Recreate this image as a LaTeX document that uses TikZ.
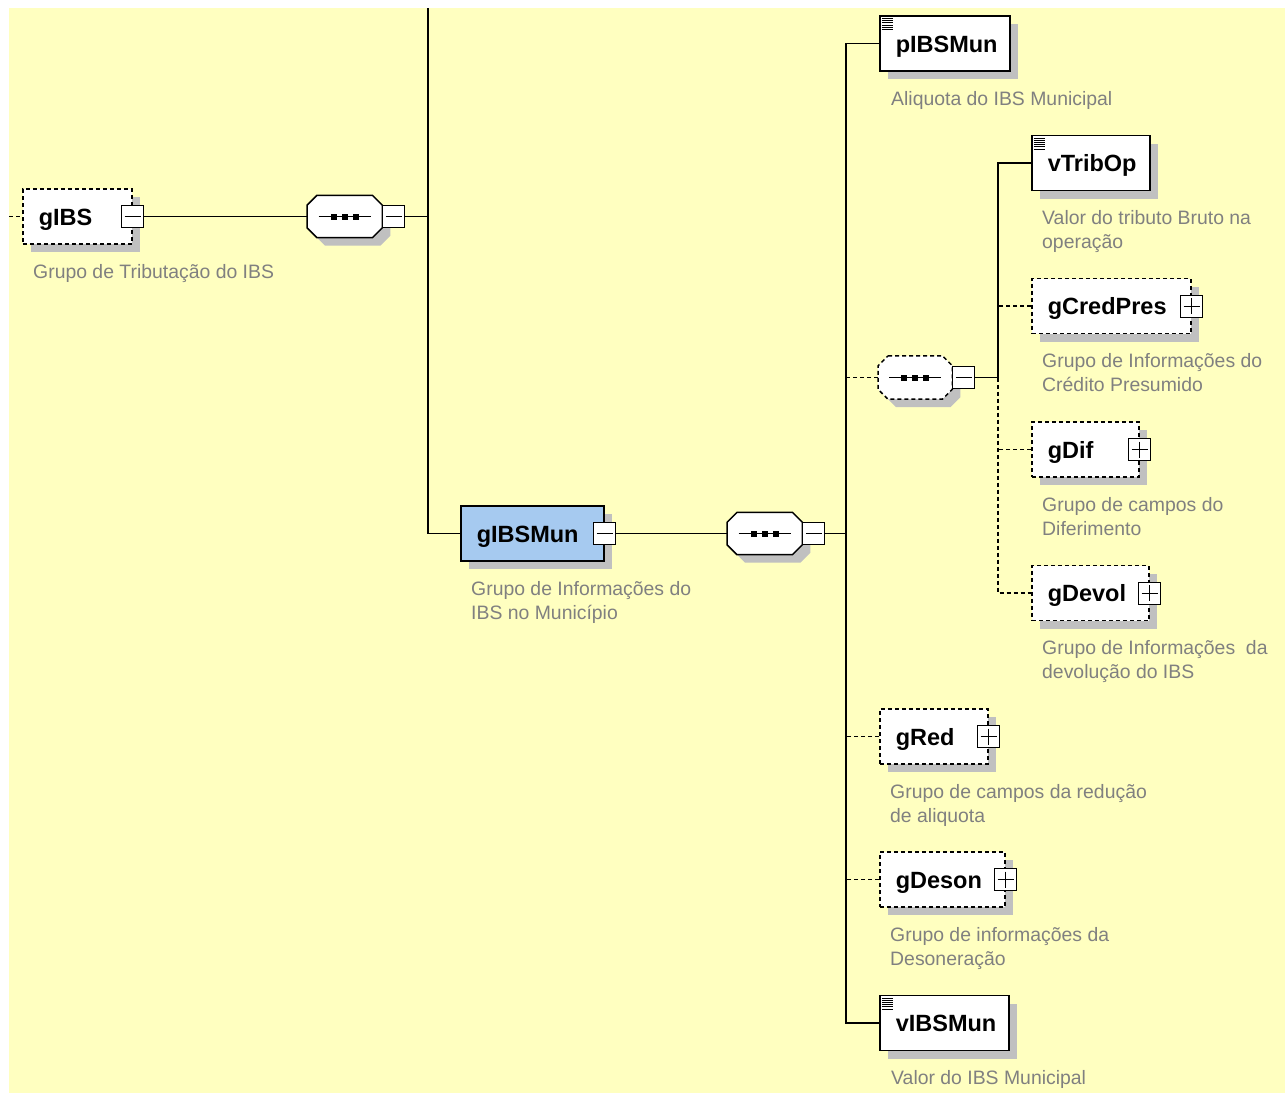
\documentclass[tikz,border=0pt]{standalone}
\usepackage{fontspec}
\setmainfont{Liberation Sans}
\usetikzlibrary{shadows}

\definecolor{bgyellow}{RGB}{255,255,192}
\definecolor{shadowgray}{RGB}{192,192,192}
\definecolor{descgray}{RGB}{128,128,128}
\definecolor{selblue}{RGB}{166,202,240}

% octagon round a sequence node
\newcommand{\octpath}[1]{([shift={(10,0)}]#1.north west) -- ([shift={(-10,0)}]#1.north east)
  -- ([shift={(0,10)}]#1.north east) -- ([shift={(0,-10)}]#1.south east)
  -- ([shift={(-10,0)}]#1.south east) -- ([shift={(10,0)}]#1.south west)
  -- ([shift={(0,-10)}]#1.south west) -- ([shift={(0,10)}]#1.north west) -- cycle}
\newcommand{\seqglyph}[2]{%
  \fill[shadowgray, transform canvas={shift={(8,8)}}] \octpath{#1};
  \filldraw[fill=white, draw=black, line width=1.5pt, #2] \octpath{#1};
  \draw[line width=1.2pt] ([xshift=-26pt]#1.center) -- ([xshift=26pt]#1.center);
  \foreach \dx in {-11,0,11}
    \fill[black] ([xshift=\dx pt]#1.center) +(-3pt,-3pt) rectangle +(3pt,3pt);
}

\tikzset{
  boxshadow/.style={drop shadow={shadow xshift=8pt, shadow yshift=-8pt, fill=shadowgray, opacity=1}},
  optborder/.style={dash pattern=on 4pt off 3pt},
  elem/.style={draw=black, line width=1.5pt, fill=white, anchor=west, minimum height=55pt,
    inner xsep=16pt, inner ysep=0pt, align=left, text height=17pt, text depth=0pt,
    font=\fontsize{23.5}{28}\selectfont\bfseries, boxshadow},
  optelem/.style={elem, optborder},
  selected/.style={fill=selblue},
  docicon/.style={path picture={
    \foreach \k in {0,...,5}
      \draw[line width=0.9pt] ([shift={(2pt,-2.5pt-2.2pt*\k)}]path picture bounding box.north west) -- ++(11pt,0pt);}},
  minusbox/.style={draw=black, line width=1pt, fill=white, minimum size=22pt, inner sep=0pt,
    path picture={\draw[line width=1pt] ([xshift=3pt]path picture bounding box.west) -- ([xshift=-3pt]path picture bounding box.east);}},
  plusbox/.style={draw=black, line width=1pt, fill=white, minimum size=22pt, inner sep=0pt,
    path picture={\draw[line width=1pt] ([xshift=3pt]path picture bounding box.west) -- ([xshift=-3pt]path picture bounding box.east);
      \draw[line width=1pt] ([yshift=-3pt]path picture bounding box.north) -- ([yshift=3pt]path picture bounding box.south);}},
  seqbox/.style={rectangle, minimum width=75pt, minimum height=42pt, inner sep=0pt, anchor=west},
  reqline/.style={draw=black, line width=1.5pt},
  optline/.style={draw=black, line width=1.5pt, optborder},
  desc/.style={anchor=north west, inner sep=0pt, align=left, text=descgray, font=\fontsize{19.4}{24}\selectfont}
}

\begin{document}
\begin{tikzpicture}[x=1pt, y=-1pt]

% Page and background
\fill[white] (0,0) rectangle (1285,1093);
\fill[bgyellow] (9,8) rectangle (1285,1093);

% Group gIBS
\node[optelem, text width=77pt] (gIBS) at (22,216.5) {gIBS};
\node[minusbox] (gIBS-tog) at (gIBS.east) {};
\node[desc] (gIBS-d) at ([shift={(11,19)}]gIBS.south west) {Grupo de Tributação do IBS};

% Sequence of gIBS
\node[seqbox] (seqA) at (307,216.5) {};
\seqglyph{seqA}{solid}
\node[minusbox, anchor=west] (seqA-tog) at (seqA.east) {};

% Group gIBSMun (selected)
\node[elem, selected, text width=111pt] (gIBSMun) at (460,533.5) {gIBSMun};
\node[minusbox] (gIBSMun-tog) at (gIBSMun.east) {};
\node[desc] (gIBSMun-d) at ([shift={(11,19)}]gIBSMun.south west) {Grupo de Informações do\\IBS no Município};

% Sequence of gIBSMun
\node[seqbox] (seqB) at (727,533.5) {};
\seqglyph{seqB}{solid}
\node[minusbox, anchor=west] (seqB-tog) at (seqB.east) {};

% Children of the sequence of gIBSMun
\node[elem, docicon, text width=98pt] (pIBSMun) at (879,43.5) {pIBSMun};
\node[desc] (pIBSMun-d) at ([shift={(12,19)}]pIBSMun.south west) {Aliquota do IBS Municipal};

\node[seqbox, minimum width=74pt, minimum height=43pt] (seqC) at (878,377.5) {}; % optional inner sequence
\seqglyph{seqC}{optborder}
\node[minusbox, anchor=west] (seqC-tog) at (seqC.east) {};

\node[optelem, text width=76pt] (gRed) at (879,736.5) {gRed};
\node[plusbox] (gRed-tog) at (gRed.east) {};
\node[desc] (gRed-d) at ([shift={(11,19)}]gRed.south west) {Grupo de campos da redução\\de aliquota};

\node[optelem, text width=93pt] (gDeson) at (879,879.5) {gDeson};
\node[plusbox] (gDeson-tog) at (gDeson.east) {};
\node[desc] (gDeson-d) at ([shift={(11,19)}]gDeson.south west) {Grupo de informações da\\Desoneração};

\node[elem, docicon, text width=97pt] (vIBSMun) at (879,1023) {vIBSMun};
\node[desc] (vIBSMun-d) at ([shift={(12,19)}]vIBSMun.south west) {Valor do IBS Municipal};

% Children of the inner sequence
\node[elem, docicon, text width=86pt] (vTribOp) at (1031,163) {vTribOp};
\node[desc] (vTribOp-d) at ([shift={(11,19)}]vTribOp.south west) {Valor do tributo Bruto na\\operação};

\node[optelem, text width=127pt] (gCredPres) at (1031,306) {gCredPres};
\node[plusbox] (gCredPres-tog) at (gCredPres.east) {};
\node[desc] (gCredPres-d) at ([shift={(11,19)}]gCredPres.south west) {Grupo de Informações do\\Crédito Presumido};

\node[optelem, text width=75pt] (gDif) at (1031,449.5) {gDif};
\node[plusbox] (gDif-tog) at (gDif.east) {};
\node[desc] (gDif-d) at ([shift={(11,19)}]gDif.south west) {Grupo de campos do\\Diferimento};

\node[optelem, text width=85pt] (gDevol) at (1031,593) {gDevol};
\node[plusbox] (gDevol-tog) at (gDevol.east) {};
\node[desc] (gDevol-d) at ([shift={(11,19)}]gDevol.south west) {Grupo de Informações\ \ da\\devolução do IBS};

% Connectors
\coordinate (leadIn) at (9,216.5);
\coordinate (topIn) at (428,8);
\coordinate (busA) at (846,533.5);
\coordinate (busC) at (998,377.5);

\draw[optline] (leadIn) -- (gIBS.west);
\draw[reqline] (gIBS-tog.east) -- (seqA.west);
\draw[reqline] (seqA-tog.east) -- (seqA-tog.east -| topIn);
\draw[reqline] (topIn) |- (gIBSMun.west);

\draw[reqline] (gIBSMun-tog.east) -- (seqB.west);
\draw[reqline] (seqB-tog.east) -- (busA);
\draw[reqline] (pIBSMun.west) -| (busA) |- (vIBSMun.west);
\draw[optline] (seqC.west) -- (seqC.west -| busA);
\draw[optline] (gRed.west) -- (gRed.west -| busA);
\draw[optline] (gDeson.west) -- (gDeson.west -| busA);

\draw[reqline] (seqC-tog.east) -- (busC) |- (vTribOp.west);
\draw[optline] (busC) |- (gDevol.west);
\draw[optline] (gCredPres.west) -- (gCredPres.west -| busC);
\draw[optline] (gDif.west) -- (gDif.west -| busC);

\end{tikzpicture}
\end{document}
